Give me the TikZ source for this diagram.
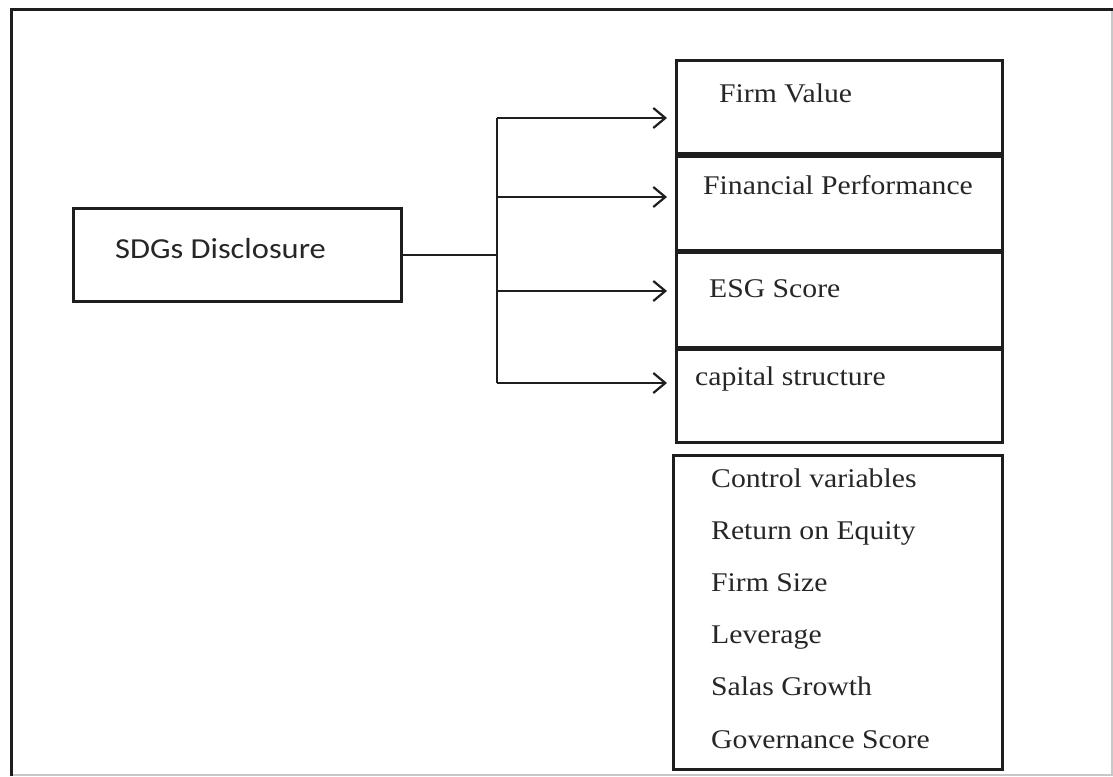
\documentclass[tikz,border=0pt]{standalone}
\usepackage{fontspec}
\setmainfont[FakeStretch=1.1]{Liberation Serif}
\newfontfamily\calfont[FakeStretch=1.12]{Carlito}
\usepackage{xcolor}
\usepackage[]{tikz}
\usetikzlibrary{positioning,calc}
\usetikzlibrary{arrows.meta}
\definecolor{inkDark}{HTML}{1E1E1E}
\definecolor{inkText}{HTML}{262626}
\definecolor{frameLight}{HTML}{C8C8C8}
\tikzstyle{boxVar}  =[rectangle, draw=inkDark, line width=3pt, inner sep=0pt, minimum width=326pt, minimum height=93pt]
\tikzstyle{txtVar}  =[inner sep=0pt, anchor=base west, text=inkText, font=\fontsize{27}{30}\selectfont]
\tikzstyle{arrVar}  =[draw=inkDark, line width=2.2pt, -{Straight Barb[length=12pt,width=20pt,line width=2.2pt]}, shorten >=8pt]
\tikzstyle{lineVar} =[draw=inkDark, line width=2.2pt]

\begin{document}
\begin{tikzpicture}[x=1pt,y=-1pt]
      \useasboundingbox (0,0) rectangle (1113,776);
      % outer frame
      \draw[frameLight, line width=1.5pt] (1112,9) -- (1112,775) -- (11,775);
      \draw[inkDark, line width=3pt] (11,776) -- (11,9.5) -- (1113,9.5);
      % boxes
      \node[boxVar, minimum width=328pt] (sdg) [anchor=north west] at (72,207) {};
      \node[boxVar] (fv) [anchor=north west] at (675,59) {};
      \node[boxVar, minimum height=94pt] (fp) [below = 0pt of fv] {};
      \node[boxVar, minimum height=95pt] (esg) [below = -1pt of fp] {};
      \node[boxVar] (cs) [below = -1pt of esg] {};
      \node[boxVar, minimum width=329pt, minimum height=314pt] (ctrl) [below = 10pt of cs, xshift=-1.5pt] {};
      % texts
      \node[txtVar, font=\calfont\fontsize{29}{32}\selectfont] (sdgT) at ($(sdg.north west)+(43,51)$) {SDGs Disclosure};
      \node[txtVar] (fvT) at ($(fv.north west)+(44,43)$) {Firm Value};
      \node[txtVar] (fpT) at ($(fp.north west)+(28,39)$) {Financial Performance};
      \node[txtVar] (esgT) at ($(esg.north west)+(34,46)$) {ESG Score};
      \node[txtVar] (csT) at ($(cs.north west)+(20,37)$) {capital structure};
      \foreach [count=\i] \ctrlname in {Control variables,Return on Equity,Firm Size,Leverage,Salas Growth,Governance Score} {
        \node[txtVar] (ctrlT\i) at ($(ctrl.north west)+(39,{33+52.2*(\i-1)})$) {\ctrlname};
      }
      % connectors
      \coordinate (j1) at (497,118);
      \coordinate (j2) at (497,197);
      \coordinate (j3) at (497,291);
      \coordinate (j4) at (497,383);
      \draw[lineVar] (sdg.east) -- (sdg.east -| j1);
      \draw[lineVar] (j1) -- (j4);
      \draw[arrVar] (j1) -- (j1 -| fv.west);
      \draw[arrVar] (j2) -- (j2 -| fp.west);
      \draw[arrVar] (j3) -- (j3 -| esg.west);
      \draw[arrVar] (j4) -- (j4 -| cs.west);
    \end{tikzpicture}
\end{document}
